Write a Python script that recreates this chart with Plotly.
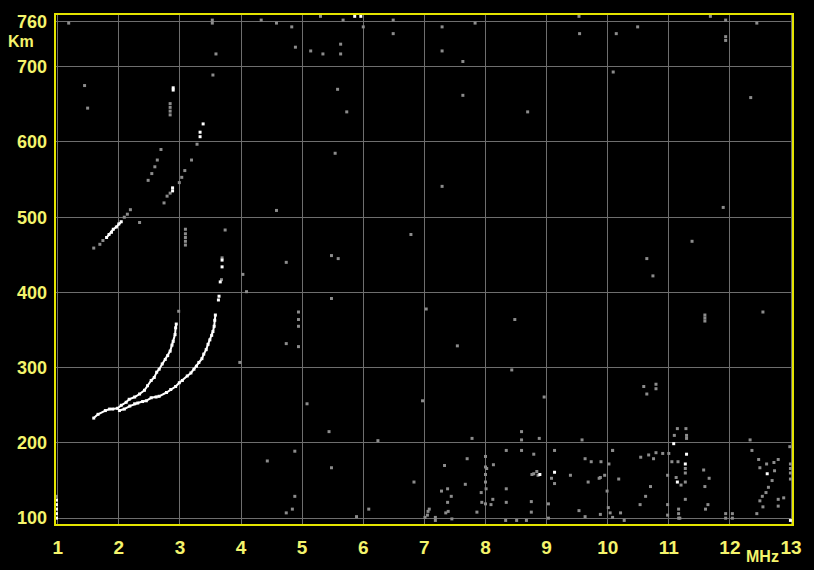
import plotly.graph_objects as go

# ---- axis ticks ----
freq_ticks = [1, 2, 3, 4, 5, 6, 7, 8, 9, 10, 11, 12, 13]
freq_labels = ["1", "2", "3", "4", "5", "6", "7", "8", "9", "10", "11", "12", "13"]
height_ticks = [100, 200, 300, 400, 500, 600, 700, 760]
height_labels = ["100", "200", "300", "400", "500", "600", "700", "760"]

# ---- echo traces (frequency MHz, virtual height km) ----
o_trace = [(1.59, 233), (1.66, 238), (1.78, 243), (1.85, 245), (1.90, 245), (1.98, 246),
           (2.04, 250), (2.12, 254), (2.17, 258), (2.26, 261), (2.34, 265), (2.42, 270),
           (2.47, 276), (2.53, 283), (2.58, 287), (2.62, 294), (2.66, 298), (2.71, 305),
           (2.76, 311), (2.80, 316), (2.84, 322), (2.87, 330), (2.89, 335), (2.92, 344),
           (2.93, 353), (2.94, 358)]
x_trace = [(2.01, 243), (2.09, 245), (2.18, 249), (2.26, 252), (2.31, 253), (2.39, 255),
           (2.45, 256), (2.53, 260), (2.61, 261), (2.66, 262), (2.78, 267), (2.85, 271),
           (2.93, 275), (2.99, 280), (3.04, 283), (3.12, 289), (3.18, 293), (3.23, 298),
           (3.27, 302), (3.31, 307), (3.36, 312), (3.39, 318), (3.43, 324), (3.46, 331),
           (3.49, 337), (3.52, 343), (3.54, 348), (3.56, 355), (3.57, 363), (3.58, 370)]
x_trace_top = [(3.63, 390), (3.64, 395), (3.66, 414), (3.69, 434), (3.69, 443)]
o2_white = [(1.80, 473), (1.84, 477), (1.88, 480), (1.91, 484), (1.96, 487), (2.00, 491),
            (2.04, 494)]
o2_gray = [(1.59, 459), (1.69, 464), (1.74, 469), (2.09, 500), (2.14, 504), (2.19, 510)]
mid_gray = [(2.48, 549), (2.54, 558), (2.59, 567), (2.63, 576), (2.69, 590)]
x2_gray = [(2.74, 519), (2.79, 528), (2.84, 532), (2.99, 546), (3.03, 553), (3.08, 562),
           (3.19, 576), (3.28, 597)]
x2_white = [(2.88, 535), (2.88, 539), (3.33, 607), (3.33, 613), (3.38, 624)]

# ---- isolated white returns ----
white_dots = [(2.89, 669), (2.89, 672), (5.86, 767), (5.96, 767), (8.89, 158), (9.13, 161),
              (11.08, 199), (11.29, 185), (11.27, 172), (11.14, 148), (12.61, 159),
              (12.99, 97), (0.98, 100), (0.98, 106), (0.98, 112), (0.98, 118), (0.98, 124)]

# ---- scattered grey noise ----
noise_upper = [(1.18, 758), (1.44, 675), (1.49, 645), (3.53, 758), (3.53, 762), (3.59, 717),
               (3.54, 689), (2.84, 636), (2.84, 641), (2.84, 646), (2.84, 651), (2.34, 493),
               (3.09, 463), (3.09, 468), (3.09, 473), (3.09, 478), (3.09, 484), (3.74, 483),
               (2.98, 375), (3.69, 446), (3.68, 417), (4.03, 424), (4.09, 401), (3.98, 307),
               (4.33, 762), (4.58, 758), (4.83, 753), (4.89, 726), (5.14, 721), (5.34, 717),
               (5.63, 717), (5.63, 730), (6.00, 753), (5.30, 767), (5.67, 762), (6.49, 744),
               (6.49, 762), (7.29, 753), (7.29, 721), (7.63, 707), (7.83, 758), (5.58, 670),
               (5.73, 640), (7.63, 662), (5.54, 585), (7.29, 541), (4.58, 509), (6.78, 477),
               (4.74, 440), (5.48, 449), (5.59, 445), (9.53, 767), (11.68, 767), (11.93, 762),
               (11.93, 735), (11.93, 740), (12.44, 758), (9.54, 744), (10.14, 744), (10.49, 753),
               (10.09, 693), (12.34, 659), (8.69, 640), (11.89, 513), (11.38, 468), (10.74, 422),
               (10.64, 445)]
noise_middle = [(8.48, 364), (11.59, 362), (11.59, 366), (11.59, 370), (12.54, 374), (8.43, 297),
                (8.96, 261), (10.59, 275), (10.64, 265), (10.79, 272), (10.79, 278), (5.48, 392),
                (7.03, 378), (4.94, 374), (4.94, 364), (4.94, 355), (4.74, 332), (4.94, 328),
                (5.08, 252), (6.97, 256), (7.54, 329)]
noise_lower = [(8.59, 215), (8.59, 204), (8.88, 206), (9.58, 204), (11.14, 219), (11.28, 219),
               (11.09, 210), (11.29, 206), (11.29, 210), (12.33, 204), (8.34, 190), (8.59, 190),
               (8.79, 185), (9.13, 190), (10.08, 190), (12.36, 190), (12.98, 195), (5.44, 215),
               (6.24, 203), (4.88, 189), (4.43, 176), (5.48, 167), (6.83, 148), (4.88, 129),
               (4.84, 112), (4.74, 107), (5.89, 102), (6.09, 112), (7.08, 112), (7.01, 101),
               (7.18, 101), (7.78, 206), (7.28, 136), (7.44, 129), (7.67, 145), (8.01, 139),
               (8.79, 159), (8.86, 157), (9.08, 153), (9.13, 146), (9.39, 157), (9.68, 148),
               (9.86, 153), (9.95, 157), (9.63, 179), (9.73, 175), (9.89, 175), (7.33, 170),
               (7.70, 179), (8.02, 166), (8.00, 182), (8.00, 168), (8.00, 158), (8.00, 148),
               (8.00, 119), (8.13, 171), (7.38, 139), (7.38, 121), (7.39, 109), (7.06, 109),
               (7.05, 104), (7.18, 97), (7.35, 107), (7.45, 99), (7.86, 108), (7.94, 121),
               (8.09, 118), (8.12, 125), (7.93, 134), (8.34, 121), (8.34, 139), (8.33, 97),
               (8.51, 97), (8.67, 97), (8.75, 108), (8.75, 122), (9.03, 100), (9.53, 110),
               (9.63, 102), (9.03, 119), (8.76, 158), (8.84, 162), (0.98, 129)]
noise_right = [(10.02, 172), (10.08, 190), (10.54, 181), (10.67, 184), (10.75, 179), (10.79, 187),
               (10.90, 186), (11.00, 186), (11.05, 175), (11.15, 175), (11.27, 160), (11.27, 166),
               (11.27, 148), (10.98, 157), (11.12, 154), (11.20, 144), (11.27, 125), (11.16, 100),
               (11.16, 106), (11.16, 112), (10.98, 118), (10.98, 104), (11.18, 100), (11.57, 164),
               (11.64, 118), (11.60, 112), (11.66, 153), (11.93, 100), (11.93, 106), (12.47, 178),
               (12.49, 167), (12.60, 172), (12.72, 174), (12.79, 178), (12.73, 163), (12.69, 150),
               (12.63, 141), (12.59, 134), (12.53, 129), (12.49, 123), (12.54, 115), (12.44, 106),
               (12.79, 125), (12.79, 116), (12.88, 127), (12.99, 152), (12.99, 160), (12.99, 166),
               (12.99, 172), (9.99, 136), (10.01, 114), (10.04, 107), (10.08, 101), (10.21, 107),
               (10.27, 97), (10.18, 152), (9.88, 154), (9.88, 105), (10.70, 142), (10.62, 129),
               (10.53, 118), (12.04, 100), (12.04, 106), (11.59, 142)]

WHITE = "#ffffff"
GREY = "#8c8c8c"
YELLOW_TXT = "#f4f46c"
YELLOW_FRAME = "#e4e400"
GRID = "#6e6e6e"


def xs(pts):
    return [p[0] for p in pts]


def ys(pts):
    return [p[1] for p in pts]


fig = go.Figure()


def add_dots(pts, color, size=3):
    fig.add_trace(go.Scatter(x=xs(pts), y=ys(pts), mode="markers",
                             marker=dict(symbol="square", size=size, color=color,
                                         line=dict(width=0)),
                             hoverinfo="skip", showlegend=False))


def add_curve(pts, color):
    fig.add_trace(go.Scatter(x=xs(pts), y=ys(pts), mode="lines+markers",
                             line=dict(color=color, width=2),
                             marker=dict(symbol="square", size=3, color=color,
                                         line=dict(width=0)),
                             hoverinfo="skip", showlegend=False))


for group in (noise_upper, noise_middle, noise_lower, noise_right):
    add_dots(group, GREY)
add_dots(o2_gray, GREY)
add_dots(mid_gray, GREY)
add_dots(x2_gray, GREY)
add_curve(o_trace, WHITE)
add_curve(x_trace, WHITE)
add_dots(x_trace_top, WHITE, size=3)
add_curve(o2_white, WHITE)
add_dots(x2_white, WHITE, size=3)
add_dots(white_dots, WHITE, size=3)

label_font = "Liberation Sans, Arial"

fig.update_layout(
    width=814, height=570,
    margin=dict(l=55, r=16, t=14, b=39),
    paper_bgcolor="#000000", plot_bgcolor="#000000",
    showlegend=False,
    xaxis=dict(range=[0.956, 13.032], tickvals=freq_ticks, ticktext=freq_labels,
               showgrid=True, gridcolor=GRID, gridwidth=1, zeroline=False, showline=False,
               ticks="", ticklabelstandoff=9,
               tickfont=dict(family=label_font, size=19, color=YELLOW_TXT, weight="bold")),
    yaxis=dict(range=[90.9, 770.1], tickvals=height_ticks, ticktext=height_labels,
               showgrid=True, gridcolor=GRID, gridwidth=1, zeroline=False, showline=False,
               ticks="", ticklabelstandoff=7,
               tickfont=dict(family=label_font, size=18, color=YELLOW_TXT, weight="bold")),
    shapes=[dict(type="rect", xref="paper", yref="paper", x0=0, x1=1, y0=0, y1=1,
                 line=dict(color=YELLOW_FRAME, width=2), layer="above")],
    annotations=[
        dict(text="Km", xref="paper", yref="paper", x=-0.0455, y=0.946,
             showarrow=False, xanchor="center", yanchor="middle",
             font=dict(family=label_font, size=16, color=YELLOW_TXT, weight="bold")),
        dict(text="MHz", xref="paper", yref="paper", x=0.958, y=-0.062,
             showarrow=False, xanchor="center", yanchor="middle",
             font=dict(family=label_font, size=16, color=YELLOW_TXT, weight="bold")),
    ],
)

fig.write_html("out.html")
